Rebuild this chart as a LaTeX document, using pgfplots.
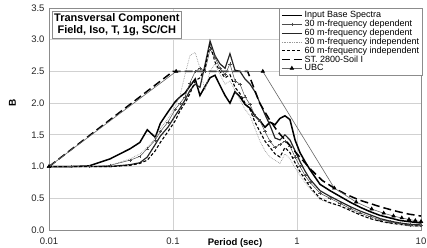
\documentclass[border=0pt]{standalone}
\usepackage{fontspec}
\setmainfont{Liberation Sans}
\usepackage{pgfplots}
\pgfplotsset{compat=1.18}
\definecolor{gridc}{gray}{0.82}
\definecolor{axc}{gray}{0.55}
\begin{document}
\begin{tikzpicture}
\path[use as bounding box] (-49pt,-18pt) rectangle (378pt,230pt);
\begin{axis}[
  at={(0pt,0pt)}, anchor=south west,
  scale only axis, width=372pt, height=222pt,
  xmode=log, xmin=0.01, xmax=10, ymin=0, ymax=3.5,
  xtick={0.01,0.1,1,10}, xticklabels={0.01,0.1,1,10},
  xminorticks=false,
  ytick={0,0.5,1,1.5,2,2.5,3,3.5}, yticklabels={0.0,0.5,1.0,1.5,2.0,2.5,3.0,3.5},
  grid=major, major grid style={gridc, line width=0.8pt},
  axis line style={axc, line width=0.8pt},
  major tick length=0pt,
  tick label style={font=\fontsize{9.5}{10}\selectfont, text=black!85},
  xticklabel style={yshift=-4pt},
  yticklabel style={xshift=-1pt},
  xlabel={\textbf{Period (sec)}},
  xlabel style={at={(rel axis cs:0.5,0)}, anchor=north, yshift=-5pt, font=\fontsize{9.5}{10}\selectfont},
  ylabel={\textbf{B}},
  ylabel style={at={(rel axis cs:-0.098,0.572)}, anchor=center, font=\fontsize{10}{10}\selectfont},
  legend style={at={(rel axis cs:1.005,1)}, anchor=north east, draw=axc, fill=white,
    font=\fontsize{9}{9.5}\selectfont, row sep=-3.2pt, inner sep=1.5pt, cells={anchor=west}},
  legend image code/.code={\draw[mark repeat=2,mark phase=2,#1] plot coordinates {(0cm,0cm) (0.35cm,0cm) (0.7cm,0cm)};},
  clip=true,
]
% Input Base Spectra
\addplot[black, line width=1.5pt] coordinates {
(0.01,1.00) (0.015,1.00) (0.021,1.01) (0.031,1.12) (0.045,1.28) (0.054,1.38) (0.062,1.58) (0.072,1.46) (0.079,1.68) (0.091,1.86) (0.104,2.02) (0.114,2.10) (0.125,2.16) (0.137,2.27) (0.151,2.38) (0.165,2.12) (0.181,2.26) (0.199,2.40) (0.218,2.44) (0.239,2.28) (0.263,2.12) (0.288,2.00) (0.316,2.18) (0.347,2.10) (0.381,1.98) (0.418,1.92) (0.458,1.80) (0.503,1.72) (0.552,1.62) (0.606,1.70) (0.665,1.66) (0.729,1.76) (0.8,1.80) (0.878,1.74) (0.964,1.42) (1.057,1.22) (1.16,1.08) (1.273,0.95) (1.533,0.72) (1.846,0.62) (2.223,0.53) (2.676,0.44) (3.222,0.36) (3.88,0.29) (4.671,0.23) (5.623,0.19) (6.771,0.15) (8.153,0.13) (10,0.11)};
\addlegendentry{Input Base Spectra}
% 30 m-frequency dependent
\addplot[black!70, line width=0.5pt, mark=+, mark size=1.6pt] coordinates {
(0.01,1.00) (0.015,1.00) (0.021,1.00) (0.031,1.02) (0.045,1.10) (0.054,1.16) (0.062,1.28) (0.072,1.42) (0.079,1.55) (0.091,1.70) (0.104,1.90) (0.114,2.00) (0.125,2.10) (0.137,2.32) (0.151,2.50) (0.165,2.55) (0.181,2.50) (0.199,2.85) (0.218,2.72) (0.239,2.55) (0.263,2.45) (0.288,2.62) (0.316,2.35) (0.347,2.30) (0.381,2.10) (0.418,1.98) (0.458,1.80) (0.503,1.72) (0.552,1.55) (0.606,1.40) (0.665,1.30) (0.729,1.35) (0.8,1.40) (0.878,1.32) (0.964,1.15) (1.057,1.00) (1.16,0.86) (1.273,0.75) (1.533,0.58) (1.846,0.50) (2.223,0.42) (2.676,0.34) (3.222,0.27) (3.88,0.21) (4.671,0.16) (5.623,0.13) (6.771,0.10) (8.153,0.08) (10,0.07)};
\addlegendentry{30 m-frequency dependent}
% 60 m-frequency dependent
\addplot[black!85, line width=1.2pt] coordinates {
(0.01,1.00) (0.015,1.00) (0.021,1.00) (0.031,1.00) (0.045,1.03) (0.054,1.06) (0.062,1.15) (0.072,1.35) (0.079,1.48) (0.091,1.62) (0.104,1.80) (0.114,1.92) (0.125,2.05) (0.137,2.20) (0.151,2.30) (0.165,2.25) (0.181,2.60) (0.199,2.98) (0.218,2.75) (0.239,2.62) (0.263,2.55) (0.288,2.78) (0.316,2.52) (0.347,2.50) (0.381,2.38) (0.418,2.30) (0.458,2.18) (0.503,2.00) (0.552,1.82) (0.606,1.65) (0.665,1.45) (0.729,1.42) (0.8,1.50) (0.878,1.42) (0.964,1.25) (1.057,1.08) (1.16,0.93) (1.273,0.80) (1.533,0.62) (1.846,0.53) (2.223,0.45) (2.676,0.37) (3.222,0.30) (3.88,0.24) (4.671,0.18) (5.623,0.14) (6.771,0.11) (8.153,0.09) (10,0.08)};
\addlegendentry{60 m-frequency dependent}
% 30 m-frequency independent
\addplot[black!40, line width=0.7pt, densely dotted] coordinates {
(0.01,1.00) (0.015,1.00) (0.021,1.00) (0.031,1.02) (0.045,1.12) (0.054,1.20) (0.062,1.30) (0.072,1.45) (0.079,1.60) (0.091,1.75) (0.104,1.95) (0.114,2.12) (0.125,2.45) (0.137,2.75) (0.151,2.80) (0.165,2.55) (0.181,2.20) (0.199,2.50) (0.218,2.62) (0.239,2.45) (0.263,2.30) (0.288,2.35) (0.316,2.20) (0.347,2.05) (0.381,1.90) (0.418,1.80) (0.458,1.60) (0.503,1.40) (0.552,1.25) (0.606,1.15) (0.665,1.10) (0.729,1.05) (0.8,1.20) (0.878,1.12) (0.964,0.98) (1.057,0.86) (1.16,0.75) (1.273,0.65) (1.533,0.48) (1.846,0.42) (2.223,0.38) (2.676,0.31) (3.222,0.24) (3.88,0.18) (4.671,0.13) (5.623,0.10) (6.771,0.08) (8.153,0.06) (10,0.05)};
\addlegendentry{30 m-frequency independent}
% 60 m-frequency independent
\addplot[black, line width=1.1pt, dash pattern=on 3pt off 2pt] coordinates {
(0.01,1.00) (0.015,1.00) (0.021,1.00) (0.031,1.00) (0.045,1.02) (0.054,1.05) (0.062,1.10) (0.072,1.25) (0.079,1.38) (0.091,1.55) (0.104,1.72) (0.114,1.88) (0.125,2.00) (0.137,2.15) (0.151,2.35) (0.165,2.40) (0.181,2.55) (0.199,2.92) (0.218,2.65) (0.239,2.50) (0.263,2.40) (0.288,2.45) (0.316,2.25) (0.347,2.15) (0.381,2.00) (0.418,1.90) (0.458,1.70) (0.503,1.55) (0.552,1.40) (0.606,1.30) (0.665,1.20) (0.729,1.15) (0.8,1.30) (0.878,1.22) (0.964,1.06) (1.057,0.92) (1.16,0.80) (1.273,0.68) (1.533,0.50) (1.846,0.43) (2.223,0.38) (2.676,0.31) (3.222,0.24) (3.88,0.18) (4.671,0.14) (5.623,0.11) (6.771,0.09) (8.153,0.07) (10,0.06)};
\addlegendentry{60 m-frequency independent}
% ST. 2800-Soil I
\addplot[black, line width=1.5pt, dash pattern=on 8pt off 4pt] coordinates {
(0.01,1.0) (0.1,2.5) (0.4,2.5) (0.5,2.0) (0.6,1.74) (0.7,1.55) (0.88,1.33) (1.0,1.2) (1.3,0.95) (1.6,0.78) (2.0,0.66) (2.5,0.56) (3.2,0.47) (4.0,0.41) (4.8,0.36) (6.5,0.29) (8,0.25) (10,0.22)};
\addlegendentry{ST. 2800-Soil I}
% UBC
\addplot[black!60, line width=0.6pt, mark=triangle*, mark size=2pt, mark options={black, solid}] coordinates {
(0.01,1.0) (0.106,2.5) (0.53,2.5) (2,0.66) (3,0.44) (4,0.33) (5,0.265) (6,0.22) (7,0.19) (8,0.166) (9,0.147) (10,0.133)};
\addlegendentry{UBC}
\node[draw=axc, fill=white, align=center, anchor=north west, inner sep=2pt,
  font=\bfseries\fontsize{11}{12.5}\selectfont] at (rel axis cs:0.008,0.985)
  {Transversal Component\\Field, Iso, T, 1g, SC/CH};
\end{axis}
\end{tikzpicture}
\end{document}
